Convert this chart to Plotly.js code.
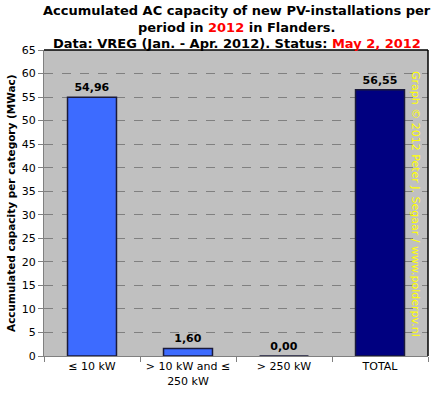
<!DOCTYPE html>
<html><head><meta charset="utf-8">
<script src="https://cdn.plot.ly/plotly-3.0.1.min.js"></script>
<style>body{margin:0;background:#fff}#c{width:441px;height:399px}</style>
</head><body><div id="c"></div>
<script>
const categories = ["≤ 10 kW", "> 10 kW and ≤<br>250 kW", "> 250 kW", "TOTAL"];
const values = [54.96, 1.60, 0.00, 56.55];
const valueLabels = ["54,96", "1,60", "0,00", "56,55"];
const barColors = ["#3D6BFF", "#3D6BFF", "#3D6BFF", "#000080"];
const yTicks = [0,5,10,15,20,25,30,35,40,45,50,55,60,65];
const titleLines = [
  "<b>Accumulated AC capacity of new PV-installations per</b>",
  "<b>period in <span style='color:#FF0000'>2012</span> in Flanders.</b>",
  "<b>Data: VREG (Jan. - Apr. 2012). Status: <span style='color:#FF0000'>May 2, 2012</span></b>"
];

const font = "DejaVu Sans, Verdana, sans-serif";
const T = 50, B = 356, L = 44, R = 428;
const H = B - T, W = R - L;
const py = y => (B - y) / H;
const px = x => (x - L) / W;
const trace = {
  type: "bar", x: categories, y: values,
  marker: {color: barColors, line: {color: "#1A1A3A", width: 1.5}},
  text: valueLabels, textposition: "outside", cliponaxis: false,
  textfont: {family: font, size: 11, color: "#000", weight: "bold"},
  hoverinfo: "none"
};
const titleY = [10, 27, 43];
const annotations = titleLines.map((t, i) => ({
  text: t, xref: "paper", yref: "paper", x: px(237), y: py(titleY[i]),
  xanchor: "center", yanchor: "middle", showarrow: false,
  font: {family: font, size: 13, color: "#000"}
}));
annotations.push({
  text: "<b>Accumulated capacity per category (MWac)</b>",
  xref: "paper", yref: "paper", x: px(11), y: py(203), textangle: -90,
  xanchor: "center", yanchor: "middle", showarrow: false,
  font: {family: font, size: 10.5, color: "#000"}
});
annotations.push({
  text: "Graph © 2012 Peter J. Segaar / www.polderpv.nl",
  xref: "paper", yref: "paper", x: px(416), y: py(204), textangle: 90,
  xanchor: "center", yanchor: "middle",
  showarrow: false, font: {family: font, size: 11, color: "#FFFF00"}
});
const layout = {
  width: 441, height: 399,
  margin: {l: L, r: 441 - R, t: T, b: 399 - B},
  paper_bgcolor: "#fff", plot_bgcolor: "#C0C0C0",
  showlegend: false, bargap: 0.49,
  font: {family: font, size: 11, color: "#000"},
  xaxis: {
    tickson: "boundaries", ticks: "outside", ticklen: 5, tickcolor: "#808080",
    showline: true, linecolor: "#808080",
    tickfont: {family: font, size: 11, color: "#000"}
  },
  yaxis: {
    range: [0, 65], tickvals: yTicks, ticks: "outside", ticklen: 5, tickcolor: "#808080",
    showgrid: true, gridcolor: "#808080", griddash: "dash", gridwidth: 1,
    showline: true, linecolor: "#808080", zeroline: false,
    tickfont: {family: font, size: 11, color: "#000"}
  },
  shapes: [
    {type: "line", xref: "paper", yref: "paper", x0: 0, x1: 1, y0: 1, y1: 1, line: {color: "#000", width: 1.5}},
    {type: "line", xref: "paper", yref: "paper", x0: 1, x1: 1, y0: 0, y1: 1, line: {color: "#000", width: 1.5}}
  ],
  annotations: annotations
};
Plotly.newPlot("c", [trace], layout, {displayModeBar: false, staticPlot: true});
</script></body></html>
